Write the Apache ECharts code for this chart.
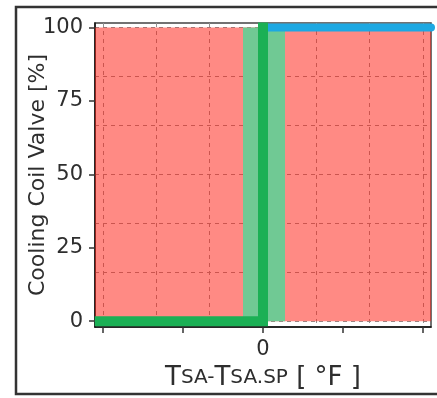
<!DOCTYPE html>
<html>
<head>
<meta charset="utf-8">
<script src="https://cdn.jsdelivr.net/npm/echarts@6/dist/echarts.min.js"></script>
<style>
html,body{margin:0;padding:0;background:#fff;}
#chart{width:437px;height:398px;}
</style>
</head>
<body>
<div id="chart"></div>
<script>
// ---- data ----
const yTickValues = [0, 25, 50, 75, 100];
const xTickValues = [-2, -1, 0, 1, 2];
const xLabelValues = [0];
const xGridValues = [-2, -1.333, -0.667, 0, 0.667, 1.333, 2];
const yGridValues = [0, 16.67, 33.33, 50, 66.67, 83.33, 100];
const xRange = [-2.1, 2.1];
const yRange = [-2, 101.5];
const faultZoneX = [-2.1, 2.1];
const faultZoneY = [0, 100];
const deadbandX = [-0.25, 0.275];
const deadbandY = [0, 100];
const valveX = [-2.04, 0, 0];
const valveY = [0, 0, 100];
const saturatedX = [0, 2.1];
const saturatedY = [100, 100];

const chart = echarts.init(document.getElementById('chart'), null, {renderer: 'canvas'});
const font = 'DejaVu Sans';
const txt = '#2e2e2e';

const option = {
  animation: false,
  backgroundColor: '#fff',
  grid: {left: 95, top: 23, right: 6, bottom: 71, show: true, borderColor: '#444', borderWidth: 1.5, backgroundColor: 'transparent'},
  xAxis: [
    {
      type: 'value', min: xRange[0], max: xRange[1],
      axisLine: {show: true, onZero: false, lineStyle: {color: '#111', width: 1.5}},
      axisTick: {show: true, customValues: xTickValues, length: 6, lineStyle: {color: '#333', width: 1.5}},
      axisLabel: {customValues: xLabelValues, fontFamily: font, fontSize: 21, color: txt, margin: 12},
      splitLine: {show: false},
      name: '{big|T}{small|SA-}{big|T}{small|SA.SP}{big| [ °F ]}',
      nameLocation: 'middle', nameGap: 30,
      nameTextStyle: {
        fontFamily: font, color: txt,
        rich: {
          big: {fontFamily: font, fontSize: 26, color: txt},
          small: {fontFamily: font, fontSize: 20, color: txt}
        }
      }
    },
    {
      type: 'value', min: xRange[0], max: xRange[1], position: 'bottom',
      axisLine: {show: false}, axisLabel: {show: false},
      axisTick: {show: false, customValues: xGridValues},
      splitLine: {show: true, lineStyle: {color: '#909090', type: [4, 4], width: 1}}
    }
  ],
  yAxis: [
    {
      type: 'value', min: yRange[0], max: yRange[1],
      axisLine: {show: true, onZero: false, lineStyle: {color: '#111', width: 1.5}},
      axisTick: {show: true, customValues: yTickValues, length: 6, lineStyle: {color: '#333', width: 1.5}},
      axisLabel: {customValues: yTickValues, fontFamily: font, fontSize: 21, color: txt, margin: 12},
      splitLine: {show: false},
      name: 'Cooling Coil Valve [%]',
      nameLocation: 'middle', nameGap: 46, nameMoveOverlap: false,
      nameTextStyle: {fontFamily: font, fontSize: 22, color: txt}
    },
    {
      type: 'value', min: yRange[0], max: yRange[1], position: 'left',
      axisLine: {show: false}, axisLabel: {show: false},
      axisTick: {show: false, customValues: yGridValues},
      splitLine: {show: true, lineStyle: {color: '#909090', type: [4, 4], width: 1}}
    }
  ],
  series: [
    {
      type: 'line', data: [], silent: true, z: 1,
      markArea: {
        silent: true,
        data: [
          [{coord: [faultZoneX[0], faultZoneY[0]], itemStyle: {color: 'rgba(255,30,20,0.52)'}},
           {coord: [faultZoneX[1], faultZoneY[1]]}],
          [{coord: [deadbandX[0], deadbandY[0]], itemStyle: {color: '#70c994'}},
           {coord: [deadbandX[1], deadbandY[1]]}]
        ]
      }
    },
    {
      type: 'line', z: 3, clip: false, symbol: 'none', silent: true,
      data: saturatedX.map((x, i) => [x, saturatedY[i]]),
      lineStyle: {color: '#1da8e2', width: 8, cap: 'round'}
    },
    {
      type: 'line', z: 4, clip: true, symbol: 'none', silent: true,
      data: valveX.map((x, i) => [x, valveY[i]]),
      lineStyle: {color: '#1bb055', width: 10, cap: 'square', join: 'miter'}
    }
  ],
  graphic: [
    {type: 'rect', silent: true, z: 100,
     shape: {x: 16, y: 7, width: 440, height: 387},
     style: {fill: 'none', stroke: '#333', lineWidth: 2.5}}
  ]
};
chart.setOption(option);
</script>
</body>
</html>
